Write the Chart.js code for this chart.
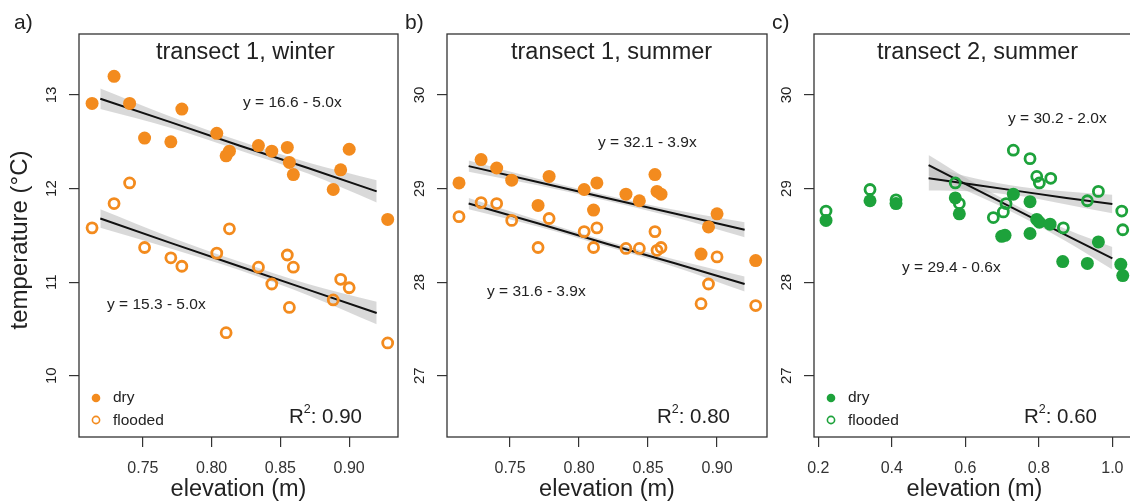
<!DOCTYPE html>
<html>
<head>
<meta charset="utf-8">
<script src="https://cdn.jsdelivr.net/npm/chart.js@4.4.1/dist/chart.umd.min.js"></script>
<style>
  html, body { margin: 0; padding: 0; overflow: hidden; background: #fff; width: 1130px; height: 501px; }
  canvas { position: absolute; top: 0; }
</style>
</head>
<body>
<canvas id="grafA" width="420" height="501" style="left:0px"></canvas>
<canvas id="grafB" width="390" height="501" style="left:400px"></canvas>
<canvas id="grafC" width="400" height="501" style="left:760px"></canvas>
<script>
// elevations of the transect 1 plots (same for winter and summer)
const elevT1 = [0.713, 0.729, 0.7403, 0.7512, 0.7703, 0.7783, 0.8037, 0.8105, 0.8129,
                0.834, 0.8437, 0.855, 0.8565, 0.8594, 0.8884, 0.8938, 0.90, 0.928];

// a) transect 1, winter
const tempWinterDry = [12.91, 13.20, 12.91, 12.54, 12.50, 12.85, 12.59, 12.35, 12.40,
                       12.46, 12.40, 12.44, 12.28, 12.15, 11.99, 12.20, 12.42, 11.67];
const tempWinterFlooded = [11.58, 11.84, 12.06, 11.37, 11.26, 11.17, 11.31, 10.46, 11.57,
                           11.16, 10.98, 11.29, 10.73, 11.16, 10.81, 11.03, 10.94, 10.35];

// b) transect 1, summer
const tempSummerDry = [29.06, 29.31, 29.22, 29.09, 28.82, 29.13, 28.99, 28.77, 29.06,
                       28.94, 28.87, 29.15, 28.97, 28.94, 28.30, 28.59, 28.73, 28.23];
const tempSummerFlooded = [28.70, 28.85, 28.84, 28.66, 28.37, 28.68, 28.54, 28.37, 28.58,
                           28.36, 28.36, 28.54, 28.34, 28.37, 27.77, 27.98, 28.27, 27.75];

// c) transect 2, summer
const elevT2Dry = [0.221, 0.3407, 0.4114, 0.5727, 0.5837, 0.699, 0.708, 0.7306, 0.776,
                   0.776, 0.7943, 0.8014, 0.8305, 0.865, 0.932, 0.962, 1.023, 1.0283];
const tempT2Dry = [28.66, 28.87, 28.84, 28.90, 28.73, 28.49, 28.50, 28.94, 28.86,
                   28.52, 28.67, 28.64, 28.62, 28.22, 28.20, 28.43, 28.19, 28.07];
const elevT2Flooded = [0.221, 0.3407, 0.4114, 0.5727, 0.5837, 0.6762, 0.7034, 0.7108, 0.7306,
                       0.776, 0.7943, 0.8014, 0.8324, 0.8667, 0.932, 0.962, 1.0256, 1.0283];
const tempT2Flooded = [28.76, 28.99, 28.88, 29.06, 28.84, 28.69, 28.75, 28.84, 29.41,
                       29.32, 29.13, 29.06, 29.11, 28.58, 28.87, 28.97, 28.76, 28.56];

// regression lines + confidence bands
const fitXA = [0.719, 0.77, 0.82, 0.87, 0.92];
const fitWinterDry = [12.96, 12.71, 12.46, 12.22, 11.97];
const fitWinterDryUp = [13.07, 12.77, 12.51, 12.28, 12.09];
const fitWinterDryLo = [12.85, 12.65, 12.41, 12.16, 11.85];
const fitWinterFl = [11.68, 11.42, 11.17, 10.92, 10.67];
const fitWinterFlUp = [11.78, 11.48, 11.22, 10.98, 10.79];
const fitWinterFlLo = [11.58, 11.36, 11.13, 10.86, 10.55];

const fitXB = [0.72, 0.77, 0.82, 0.87, 0.92];
const fitSummerDry = [29.24, 29.07, 28.90, 28.73, 28.56];
const fitSummerDryUp = [29.30, 29.105, 28.93, 28.77, 28.64];
const fitSummerDryLo = [29.18, 29.035, 28.87, 28.69, 28.48];
const fitSummerFl = [28.84, 28.63, 28.41, 28.20, 27.98];
const fitSummerFlUp = [28.90, 28.665, 28.44, 28.24, 28.06];
const fitSummerFlLo = [28.78, 28.595, 28.38, 28.16, 27.90];

const fitXC = [0.50, 0.625, 0.75, 0.875, 1.0];
const fitT2Steep = [29.25, 29.0, 28.75, 28.50, 28.255];
const fitT2SteepUp = [29.36, 29.06, 28.795, 28.565, 28.375];
const fitT2SteepLo = [29.14, 28.94, 28.705, 28.435, 28.135];
const fitT2Flat = [29.11, 29.04, 28.97, 28.90, 28.835];
const fitT2FlatUp = [29.24, 29.11, 29.02, 28.97, 28.935];
const fitT2FlatLo = [28.98, 28.97, 28.92, 28.83, 28.735];

// ticks
const xTicksT1 = [0.75, 0.80, 0.85, 0.90];
const xLabelsT1 = ['0.75', '0.80', '0.85', '0.90'];
const xTicksT2 = [0.2, 0.4, 0.6, 0.8, 1.0];
const xLabelsT2 = ['0.2', '0.4', '0.6', '0.8', '1.0'];
const yTicksWinter = [10, 11, 12, 13];
const yTicksSummer = [27, 28, 29, 30];

const FONTE = '"Liberation Sans", Arial, Helvetica, sans-serif';
const LARANJA = '#F38B1E';
const VERDE = '#1DA23B';
const CINZA_BANDA = 'rgba(185,185,185,0.55)';

function pontos(xs, ys) {
    return xs.map((x, i) => ({ x: x, y: ys[i] }));
}

// banda (superior, inferior com fill) + linha da regressao
function ajuste(xs, linha, sup, inf) {
    return [
        { type: 'line', data: pontos(xs, sup), borderWidth: 0, pointRadius: 0, fill: false,
          cubicInterpolationMode: 'monotone', order: 3 },
        { type: 'line', data: pontos(xs, inf), borderWidth: 0, pointRadius: 0, fill: '-1',
          backgroundColor: CINZA_BANDA, cubicInterpolationMode: 'monotone', order: 3 },
        { type: 'line', data: pontos(xs, linha), borderColor: '#111', borderWidth: 2,
          pointRadius: 0, fill: false, order: 2 }
    ];
}

// secos por cima dos alagados
function pontosSecos(xs, ys, cor) {
    return { data: pontos(xs, ys), pointStyle: 'circle', pointRadius: 6.5,
             backgroundColor: cor, borderWidth: 0, order: 0 };
}

function pontosAlagados(xs, ys, cor) {
    return { data: pontos(xs, ys), pointStyle: 'circle', pointRadius: 5,
             backgroundColor: 'rgba(0,0,0,0)', borderColor: cor, borderWidth: 2.8, order: 1 };
}

// textos do painel (titulo, letra, equacoes, legenda, R2)
const textoPainel = {
    id: 'textoPainel',
    afterDraw(chart, args, o) {
        const ctx = chart.ctx;
        const area = chart.chartArea;
        const dx = -o.left;
        ctx.save();
        ctx.strokeStyle = '#333';
        ctx.lineWidth = 1.3;
        ctx.strokeRect(area.left, area.top, area.right - area.left, area.bottom - area.top);

        ctx.fillStyle = '#222';
        // rotulos do eixo y, girados
        ctx.font = '15px ' + FONTE;
        ctx.textAlign = 'center';
        ctx.textBaseline = 'middle';
        o.yTicks.forEach(v => {
            const py = chart.scales.y.getPixelForValue(v);
            ctx.save();
            ctx.translate(area.left - 27, py);
            ctx.rotate(-Math.PI / 2);
            ctx.fillText(String(v), 0, 0);
            ctx.restore();
        });

        if (o.yTitle) {
            ctx.save();
            ctx.font = '24px ' + FONTE;
            ctx.translate(20 + dx, 240);
            ctx.rotate(-Math.PI / 2);
            ctx.fillText(o.yTitle, 0, 0);
            ctx.restore();
        }

        ctx.textBaseline = 'alphabetic';
        ctx.textAlign = 'left';
        ctx.font = '23.5px ' + FONTE;
        ctx.fillText(o.title, o.titleX + dx, 59);
        ctx.font = '21px ' + FONTE;
        ctx.fillText(o.letter, o.letterX + dx, 29);

        ctx.font = '15.5px ' + FONTE;
        ctx.textBaseline = 'middle';
        o.equations.forEach(e => ctx.fillText(e.text, e.x + dx, e.y));

        if (o.legendX) {
            const lx = o.legendX + dx;
            ctx.fillStyle = o.color;
            ctx.beginPath();
            ctx.arc(lx, 398, 4.3, 0, Math.PI * 2);
            ctx.fill();
            ctx.strokeStyle = o.color;
            ctx.lineWidth = 1.6;
            ctx.beginPath();
            ctx.arc(lx, 420, 3.6, 0, Math.PI * 2);
            ctx.stroke();
            ctx.fillStyle = '#222';
            ctx.font = '15.5px ' + FONTE;
            ctx.fillText('dry', lx + 17, 398);
            ctx.fillText('flooded', lx + 17, 421);
        }

        // R^2
        ctx.textBaseline = 'alphabetic';
        ctx.font = '20.5px ' + FONTE;
        const wR = ctx.measureText('R').width;
        const resto = ': ' + o.r2;
        const wResto = ctx.measureText(resto).width;
        ctx.font = '12.5px ' + FONTE;
        const w2 = ctx.measureText('2').width;
        let x0 = o.r2Right + dx - (wR + w2 + wResto);
        ctx.font = '20.5px ' + FONTE;
        ctx.fillText('R', x0, 423);
        ctx.font = '12.5px ' + FONTE;
        ctx.fillText('2', x0 + wR, 413);
        ctx.font = '20.5px ' + FONTE;
        ctx.fillText(resto, x0 + wR + w2, 423);
        ctx.restore();
    }
};

function criarGrafico(id, cfg) {
    return new Chart(document.getElementById(id), {
        type: 'scatter',
        data: { datasets: cfg.datasets },
        options: {
            responsive: false,
            animation: false,
            events: [],
            layout: { padding: { left: 0, right: cfg.padRight, top: 34, bottom: 0 } },
            plugins: {
                legend: { display: false },
                tooltip: { enabled: false },
                textoPainel: cfg.text
            },
            scales: {
                x: {
                    type: 'linear', position: 'bottom', min: cfg.xMin, max: cfg.xMax,
                    afterBuildTicks: s => { s.ticks = cfg.xTicks.map(v => ({ value: v })); },
                    afterFit: s => { s.height = 64; },
                    grid: { drawOnChartArea: false, drawTicks: true, tickLength: 10, color: '#333', lineWidth: 1.2 },
                    border: { display: false },
                    ticks: { autoSkip: false, maxRotation: 0, padding: 12, color: '#333',
                             font: { family: FONTE, size: 16 },
                             callback: (v, i) => cfg.xLabels[i] },
                    title: { display: true, text: 'elevation (m)', color: '#222',
                             font: { family: FONTE, size: 23.5 }, padding: { top: 0, bottom: -3 } }
                },
                y: {
                    type: 'linear', position: 'left', min: cfg.yMin, max: cfg.yMax,
                    afterBuildTicks: s => { s.ticks = cfg.yTicks.map(v => ({ value: v })); },
                    afterFit: s => { s.width = cfg.yWidth; },
                    grid: { drawOnChartArea: false, drawTicks: true, tickLength: 10, color: '#333', lineWidth: 1.2 },
                    border: { display: false },
                    ticks: { display: false }
                }
            }
        },
        plugins: [textoPainel]
    });
}

criarGrafico('grafA', {
    datasets: [
        ...ajuste(fitXA, fitWinterDry, fitWinterDryUp, fitWinterDryLo),
        ...ajuste(fitXA, fitWinterFl, fitWinterFlUp, fitWinterFlLo),
        pontosSecos(elevT1, tempWinterDry, LARANJA),
        pontosAlagados(elevT1, tempWinterFlooded, LARANJA)
    ],
    xMin: 0.7035, xMax: 0.9355, yMin: 9.345, yMax: 13.652,
    xTicks: xTicksT1, xLabels: xLabelsT1, yTicks: yTicksWinter,
    yWidth: 79, padRight: 22,
    text: {
        left: 0, yTicks: yTicksWinter, yTitle: 'temperature (°C)',
        title: 'transect 1, winter', titleX: 156, letter: 'a)', letterX: 14,
        equations: [{ text: 'y = 16.6 - 5.0x', x: 243, y: 103 },
                    { text: 'y = 15.3 - 5.0x', x: 107, y: 305 }],
        legendX: 96, color: LARANJA, r2: '0.90', r2Right: 362
    }
});

criarGrafico('grafB', {
    datasets: [
        ...ajuste(fitXB, fitSummerDry, fitSummerDryUp, fitSummerDryLo),
        ...ajuste(fitXB, fitSummerFl, fitSummerFlUp, fitSummerFlLo),
        pontosSecos(elevT1, tempSummerDry, LARANJA),
        pontosAlagados(elevT1, tempSummerFlooded, LARANJA)
    ],
    xMin: 0.7043, xMax: 0.9362, yMin: 26.345, yMax: 30.652,
    xTicks: xTicksT1, xLabels: xLabelsT1, yTicks: yTicksSummer,
    yWidth: 47, padRight: 23,
    text: {
        left: 400, yTicks: yTicksSummer,
        title: 'transect 1, summer', titleX: 511, letter: 'b)', letterX: 405,
        equations: [{ text: 'y = 32.1 - 3.9x', x: 598, y: 143 },
                    { text: 'y = 31.6 - 3.9x', x: 487, y: 292 }],
        r2: '0.80', r2Right: 730
    }
});

criarGrafico('grafC', {
    datasets: [
        ...ajuste(fitXC, fitT2Flat, fitT2FlatUp, fitT2FlatLo),
        ...ajuste(fitXC, fitT2Steep, fitT2SteepUp, fitT2SteepLo),
        pontosSecos(elevT2Dry, tempT2Dry, VERDE),
        pontosAlagados(elevT2Flooded, tempT2Flooded, VERDE)
    ],
    xMin: 0.1883, xMax: 1.0616, yMin: 26.345, yMax: 30.652,
    xTicks: xTicksT2, xLabels: xLabelsT2, yTicks: yTicksSummer,
    yWidth: 54, padRight: 25,
    text: {
        left: 760, yTicks: yTicksSummer,
        title: 'transect 2, summer', titleX: 877, letter: 'c)', letterX: 772,
        equations: [{ text: 'y = 30.2 - 2.0x', x: 1008, y: 119 },
                    { text: 'y = 29.4 - 0.6x', x: 902, y: 268 }],
        legendX: 831, color: VERDE, r2: '0.60', r2Right: 1097
    }
});
</script>
</body>
</html>
